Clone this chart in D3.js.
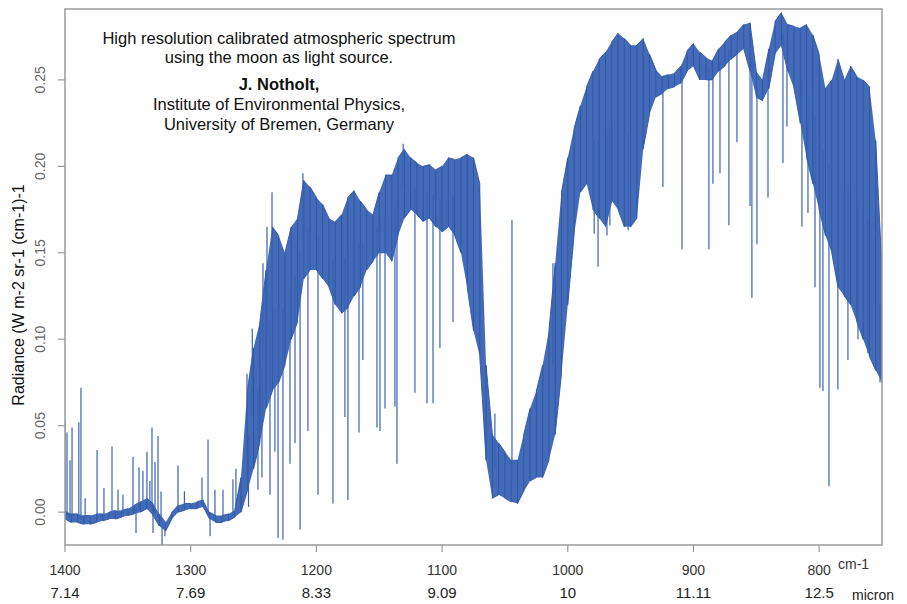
<!DOCTYPE html>
<html>
<head>
<meta charset="utf-8">
<script src="https://cdn.jsdelivr.net/npm/d3@7"></script>
<style>
  body { margin: 0; background: #fff; }
  svg { display: block; font-family: "Liberation Sans", Arial, sans-serif; }
</style>
</head>
<body>
<svg id="chart" width="907" height="604"></svg>
<script>
// spectrum sampled every 5 cm-1 from 1400 down to 750
const wavenumbers = d3.range(1400, 749, -5)

// top and bottom of the dense band of lines at each sample (W m-2 sr-1 (cm-1)-1)
const upper = [
  0.001, -0.001, -0.001, -0.002, -0.002, -0.001, -0.001, 0.000, 0.001, 0.001,
  0.002, 0.004, 0.006, 0.008, 0.005, -0.001, -0.006, 0.000, 0.004, 0.005,
  0.005, 0.006, 0.007, 0.000, -0.002, -0.002, -0.001, 0.001, 0.020, 0.070,
  0.095, 0.110, 0.140, 0.165, 0.160, 0.150, 0.165, 0.170, 0.192, 0.188,
  0.182, 0.178, 0.170, 0.168, 0.172, 0.182, 0.186, 0.180, 0.175, 0.172,
  0.185, 0.195, 0.195, 0.205, 0.210, 0.205, 0.202, 0.200, 0.201, 0.198,
  0.200, 0.205, 0.204, 0.205, 0.207, 0.205, 0.190, 0.085, 0.045, 0.040,
  0.035, 0.030, 0.030, 0.045, 0.060, 0.070, 0.085, 0.105, 0.144, 0.185,
  0.205, 0.222, 0.235, 0.246, 0.255, 0.262, 0.266, 0.272, 0.277, 0.274,
  0.270, 0.270, 0.274, 0.265, 0.256, 0.252, 0.253, 0.254, 0.258, 0.267,
  0.271, 0.266, 0.263, 0.261, 0.268, 0.272, 0.276, 0.278, 0.282, 0.283,
  0.255, 0.250, 0.268, 0.284, 0.289, 0.282, 0.281, 0.280, 0.282, 0.276,
  0.265, 0.245, 0.250, 0.262, 0.250, 0.258, 0.252, 0.250, 0.246, 0.215,
  0.140
]
const lower = [
  -0.004, -0.006, -0.006, -0.007, -0.007, -0.006, -0.005, -0.004, -0.004, -0.003,
  -0.002, -0.001, 0.000, 0.002, -0.002, -0.008, -0.011, -0.004, 0.000, 0.001,
  0.002, 0.002, 0.003, -0.004, -0.006, -0.006, -0.005, -0.003, 0.000, 0.012,
  0.025, 0.040, 0.060, 0.070, 0.075, 0.085, 0.100, 0.110, 0.135, 0.140,
  0.140, 0.135, 0.130, 0.120, 0.115, 0.118, 0.125, 0.130, 0.140, 0.145,
  0.150, 0.150, 0.145, 0.160, 0.170, 0.175, 0.172, 0.168, 0.170, 0.165,
  0.162, 0.165, 0.160, 0.150, 0.130, 0.105, 0.090, 0.030, 0.008, 0.010,
  0.008, 0.006, 0.005, 0.012, 0.018, 0.020, 0.020, 0.030, 0.045, 0.080,
  0.120, 0.160, 0.185, 0.190, 0.175, 0.170, 0.165, 0.180, 0.175, 0.165,
  0.165, 0.170, 0.210, 0.230, 0.240, 0.242, 0.245, 0.246, 0.248, 0.255,
  0.258, 0.250, 0.250, 0.250, 0.255, 0.258, 0.262, 0.265, 0.268, 0.255,
  0.240, 0.238, 0.245, 0.265, 0.270, 0.255, 0.245, 0.225, 0.205, 0.190,
  0.175, 0.160, 0.150, 0.130, 0.125, 0.120, 0.110, 0.100, 0.090, 0.082,
  0.075
]

// single lines that stick out of the band: [wavenumber, radiance at tip]
const spikes = [
  [1400, 0.053], [1398.4, 0.046], [1396, 0.030], [1394.4, 0.049], [1389, 0.052],
  [1387.3, 0.072], [1384, 0.008], [1374.5, 0.036], [1369, 0.014], [1362.6, 0.038],
  [1357.8, 0.013], [1353.9, 0.010], [1345.9, 0.032], [1343.5, -0.012], [1341.1, 0.026],
  [1338, 0.024], [1334.8, 0.035], [1332.5, 0.018], [1330.8, 0.049], [1330, -0.012],
  [1328.4, 0.029], [1326, 0.044], [1323.6, 0.012], [1322.8, -0.019], [1320.5, -0.014],
  [1310.1, 0.027], [1305, 0.012], [1291, 0.020], [1286.2, 0.042], [1284.6, -0.014],
  [1280.7, 0.013], [1274.3, 0.013], [1266.4, 0.019], [1264, 0.025],
  [1255.2, 0.080], [1254, 0.003], [1251, 0.106], [1246.5, 0.013], [1243.3, 0.020],
  [1242.5, 0.144], [1239.3, 0.165], [1236.9, 0.010], [1235.3, 0.185], [1233, 0.035],
  [1230.5, -0.015], [1226.6, -0.016], [1221, 0.028], [1217, 0.040], [1213, -0.010],
  [1210.7, 0.196], [1206.7, 0.047], [1198.7, 0.010], [1186.8, 0.005], [1177.3, 0.055],
  [1174.9, 0.007], [1166.1, 0.046], [1163, 0.088], [1151.8, 0.049], [1149.4, 0.047],
  [1145.4, 0.060], [1137.5, 0.061], [1135.9, 0.028], [1131, 0.213], [1121.6, 0.069],
  [1112, 0.063], [1107.2, 0.063], [1101.7, 0.095], [1091.3, 0.110], [1058, 0.057],
  [1044.4, 0.169], [1011.8, 0.144],
  [979, 0.161], [975.9, 0.142], [968.8, 0.160], [966.5, 0.166], [952, 0.163],
  [924.3, 0.188], [909.1, 0.152], [887.7, 0.152], [884.5, 0.190], [878.9, 0.196],
  [871.8, 0.166], [865.4, 0.214], [855, 0.177], [853.5, 0.124], [849.5, 0.155],
  [840.7, 0.182], [828.8, 0.202], [825.6, 0.223], [813.7, 0.165], [808.9, 0.173],
  [803.3, 0.130], [799.4, 0.072], [797, 0.070], [792.2, 0.015], [785.1, 0.071],
  [777.1, 0.088], [769.1, 0.100], [761.2, 0.092], [751.6, 0.075]
]

const xTicks = [1400, 1300, 1200, 1100, 1000, 900, 800]
const micronLabels = ['7.14', '7.69', '8.33', '9.09', '10', '11.11', '12.5']
const yTicks = [0, 0.05, 0.10, 0.15, 0.20, 0.25]
const noteLines = [
  'High resolution calibrated atmospheric spectrum',
  'using the moon as light source.',
  'J. Notholt,',
  'Institute of Environmental Physics,',
  'University of Bremen, Germany'
]

const blue = '#2c55a7'
const margin = { top: 9, right: 25, bottom: 59, left: 65 }
const width = 907, height = 604

const svg = d3.select('#chart')

const x = d3.scaleLinear()
  .domain([1400, 750])
  .range([margin.left, width - margin.right])

const y = d3.scaleLinear()
  .domain([-0.019, 0.291])
  .range([height - margin.bottom, margin.top])

// band lookups for spike roots
const upAt = d3.scaleLinear().domain(wavenumbers).range(upper)
const loAt = d3.scaleLinear().domain(wavenumbers).range(lower)

svg.append('clipPath')
  .attr('id', 'plot')
  .append('rect')
    .attr('x', margin.left)
    .attr('y', margin.top)
    .attr('width', width - margin.left - margin.right)
    .attr('height', height - margin.top - margin.bottom)

const g = svg.append('g').attr('clip-path', 'url(#plot)')

const samples = wavenumbers.map((w, i) => ({ w, hi: upper[i], lo: lower[i] }))

g.append('path')
  .datum(samples)
  .attr('fill', '#3560b2')
  .attr('fill-opacity', 0.93)
  .attr('d', d3.area()
    .x(d => x(d.w))
    .y0(d => y(d.lo))
    .y1(d => y(d.hi)))

// zigzag through the band so the lines show up as strokes
const zig = samples.flatMap((d, i) => i % 2
  ? [[d.w, d.lo], [d.w, d.hi]]
  : [[d.w, d.hi], [d.w, d.lo]])

g.append('path')
  .datum(zig)
  .attr('fill', 'none')
  .attr('stroke', blue)
  .attr('stroke-width', 0.9)
  .attr('d', d3.line()
    .x(d => x(d[0]))
    .y(d => y(d[1])))

g.selectAll('line.spike')
  .data(spikes)
  .join('line')
    .attr('class', 'spike')
    .attr('x1', d => x(d[0]))
    .attr('x2', d => x(d[0]))
    .attr('y1', d => y((upAt(d[0]) + loAt(d[0])) / 2))
    .attr('y2', d => y(d[1]))
    .attr('stroke', '#3a62b4')
    .attr('stroke-width', 1.2)

// frame
svg.append('rect')
  .attr('x', margin.left)
  .attr('y', margin.top)
  .attr('width', width - margin.left - margin.right)
  .attr('height', height - margin.top - margin.bottom)
  .attr('fill', 'none')
  .attr('stroke', '#9a9a9a')
  .attr('stroke-width', 1.5)

// left axis
const yAxis = svg.append('g')
yAxis.selectAll('line')
  .data(yTicks)
  .join('line')
    .attr('x1', margin.left - 7)
    .attr('x2', margin.left)
    .attr('y1', d => y(d))
    .attr('y2', d => y(d))
    .attr('stroke', '#9a9a9a')
    .attr('stroke-width', 1.2)
yAxis.selectAll('text')
  .data(yTicks)
  .join('text')
    .attr('transform', d => `translate(45, ${y(d)}) rotate(-90)`)
    .attr('text-anchor', 'middle')
    .attr('fill', '#666')
    .style('font-size', '14px')
    .text(d => d3.format('.2f')(d))

// bottom axis
const xAxis = svg.append('g')
const bottom = height - margin.bottom
xAxis.selectAll('line')
  .data(xTicks)
  .join('line')
    .attr('x1', d => x(d))
    .attr('x2', d => x(d))
    .attr('y1', bottom)
    .attr('y2', bottom + 7)
    .attr('stroke', '#9a9a9a')
    .attr('stroke-width', 1.2)
xAxis.selectAll('text.cm')
  .data(xTicks)
  .join('text')
    .attr('class', 'cm')
    .attr('x', d => x(d))
    .attr('y', bottom + 30)
    .attr('text-anchor', 'middle')
    .attr('fill', '#333')
    .style('font-size', '14px')
    .text(d => d)
xAxis.selectAll('text.um')
  .data(micronLabels)
  .join('text')
    .attr('class', 'um')
    .attr('x', (d, i) => x(xTicks[i]))
    .attr('y', bottom + 53)
    .attr('text-anchor', 'middle')
    .attr('fill', '#222')
    .style('font-size', '15px')
    .text(d => d)

svg.append('text')
  .attr('x', 838)
  .attr('y', bottom + 24)
  .attr('fill', '#333')
  .style('font-size', '14px')
  .text('cm-1')
svg.append('text')
  .attr('x', 852)
  .attr('y', bottom + 55)
  .attr('fill', '#222')
  .style('font-size', '14px')
  .text('micron')

// y label
svg.append('text')
  .attr('transform', `translate(24, ${(margin.top + bottom) / 2 + 18}) rotate(-90)`)
  .attr('text-anchor', 'middle')
  .attr('fill', '#111')
  .style('font-size', '16px')
  .text('Radiance (W m-2 sr-1 (cm-1)-1')

// note in the upper left
svg.append('g')
  .selectAll('text')
  .data(noteLines)
  .join('text')
    .attr('x', 279)
    .attr('y', (d, i) => [44, 63, 90, 110, 130][i])
    .attr('text-anchor', 'middle')
    .attr('fill', '#111')
    .style('font-size', '16.5px')
    .style('font-weight', (d, i) => i === 2 ? 'bold' : 'normal')
    .text(d => d)
</script>
</body>
</html>
